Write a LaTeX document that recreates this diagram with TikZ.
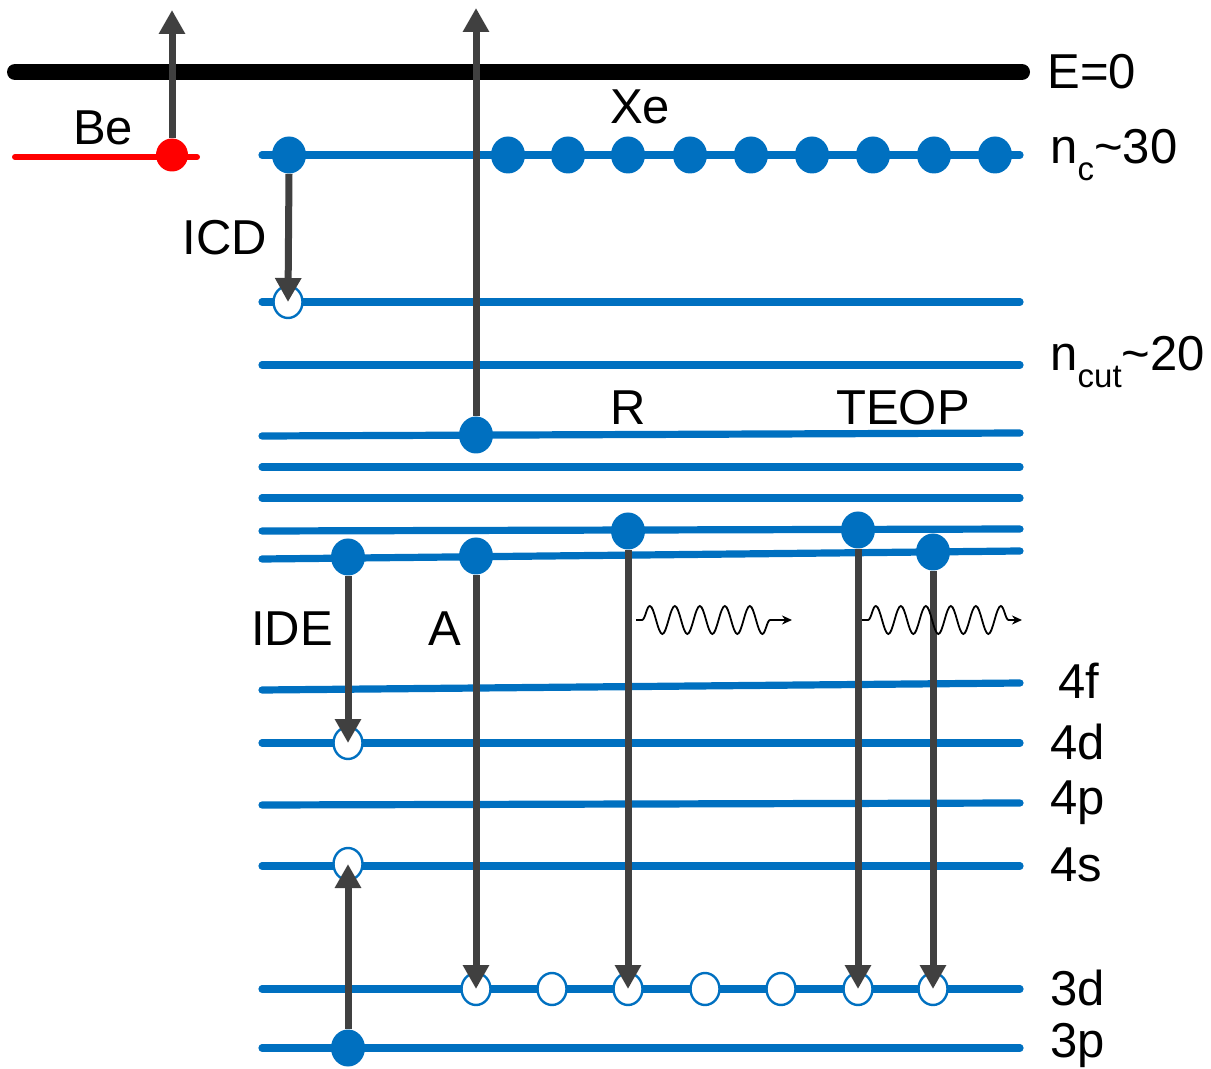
\documentclass[tikz,border=0pt]{standalone}
\usepackage{fontspec}
\setmainfont{Liberation Sans}
\usetikzlibrary{arrows.meta,shapes.geometric,decorations.pathmorphing}
\definecolor{lvblue}{HTML}{0070C0}
\definecolor{arrgray}{HTML}{404040}
\newcommand{\lvsub}[1]{\raisebox{-0.35em}{\fontsize{16.5}{16.5}\selectfont #1}}

\begin{document}
\begin{tikzpicture}[x=0.5pt,y=-0.5pt,
  level/.style={draw=lvblue,line width=3.6pt,line cap=round},
  dot/.style={ellipse,fill=lvblue,inner sep=0pt,minimum width=17pt,minimum height=18.5pt},
  hole/.style={ellipse,draw=lvblue,fill=white,line width=1.2pt,inner sep=0pt,minimum width=14.5pt,minimum height=16pt},
  jump/.style={draw=arrgray,line width=3.5pt,-{Triangle[width=12.5pt,length=12pt]}},
  photon/.style={draw=black,line width=0.9pt,decorate,
    decoration={snake,amplitude=7pt,segment length=12.5pt,pre length=3pt,post length=5pt},
    -{Stealth[length=5pt,width=4.5pt]}},
  lbl/.style={font=\fontsize{24.5}{28}\selectfont,inner sep=0pt}]
  \useasboundingbox (0,0) rectangle (1211,1069);

  % continuum
  \draw[line width=8pt,line cap=round] (15,72) -- (1022,72);
  \node[lbl,anchor=west] (ezero) at (1047,72) {E=0};

  % Be level
  \draw[red,line width=3pt,line cap=round] (15,157) -- (197,157);
  \node[lbl] (belbl) at (103,128) {Be};
  \node[ellipse,fill=red,inner sep=0pt,minimum width=16pt,minimum height=16.5pt] (be) at (172,155) {};

  % Xe levels
  \foreach \y in {155,302,365,467,498,743,866,989,1048}
    \draw[level] (262,\y) -- (1020,\y);
  \draw[level] (262,436) -- (1020,433);
  \draw[level] (262,531) -- (1020,529);
  \draw[level] (262,559) -- (1020,551);
  \draw[level] (262,690) -- (1020,683);
  \draw[level] (262,805) -- (1020,803);

  % level labels
  \node[lbl,anchor=west] (ncl) at (1050,155) {n\lvsub{c}\textasciitilde30};
  \node[lbl,anchor=west] (ncut) at (1050,362) {n\lvsub{cut}\textasciitilde20};
  \node[lbl,anchor=west] (l4f) at (1058,681) {4f};
  \node[lbl,anchor=west] (l4d) at (1050,742) {4d};
  \node[lbl,anchor=west] (l4p) at (1050,803) {4p};
  \node[lbl,anchor=west] (l4s) at (1050,865) {4s};
  \node[lbl,anchor=west] (l3d) at (1050,988) {3d};
  \node[lbl,anchor=west] (l3p) at (1050,1045) {3p};

  % process labels
  \node[lbl] (xe) at (640,107) {Xe};
  \node[lbl] (icdl) at (225,238) {ICD};
  \node[lbl] (rl) at (628,408) {R};
  \node[lbl] (teopl) at (903,408) {TEOP};
  \node[lbl] (idel) at (292,629) {IDE};
  \node[lbl] (al) at (445,629) {A};

  % Rydberg electrons
  \node[dot] (icd) at (289,155) {};
  \foreach \x [count=\i] in {508,568,628,690,751,812,873,934,995}
    \node[dot] (xe\i) at (\x,155) {};
  \node[hole] (icdh) at (288,302) {};
  \node[dot] (ryd) at (476,435) {};
  \node[dot] (rad) at (628,531) {};
  \node[dot] (teop1) at (858,530) {};
  \node[dot] (ide) at (348,557) {};
  \node[dot] (aug) at (476,556) {};
  \node[dot] (teop2) at (933,552) {};

  % core holes
  \node[hole] (ideh) at (348,743) {};
  \node[hole] (coreh) at (348,864) {};
  \node[dot] (core) at (348,1048) {};
  \foreach \x [count=\i] in {476,552,628,705,781,858,933}
    \node[hole] (h\i) at (\x,989) {};

  % transitions
  \coordinate (top1) at (172,10);
  \coordinate (top2) at (476,8);
  \draw[jump] (be.north) -- (top1);
  \draw[jump] (ryd.north) -- (top2);
  \draw[jump] (icd.south) -- (icdh.center);
  \draw[jump] (ide.south) -- (ideh.center);
  \draw[jump] (core.north) -- (coreh.center);
  \draw[jump] (aug.south) -- (h1.center);
  \draw[jump] (rad.south) -- (h3.center);
  \draw[jump] (teop1.south) -- (h6.center);
  \draw[jump] (teop2.south) -- (h7.center);

  % photons
  \coordinate (ph1a) at (636,620);
  \coordinate (ph1b) at (792,620);
  \coordinate (ph2a) at (862,620);
  \coordinate (ph2b) at (1022,620);
  \draw[photon] (ph1a) -- (ph1b);
  \draw[photon] (ph2a) -- (ph2b);
\end{tikzpicture}
\end{document}
